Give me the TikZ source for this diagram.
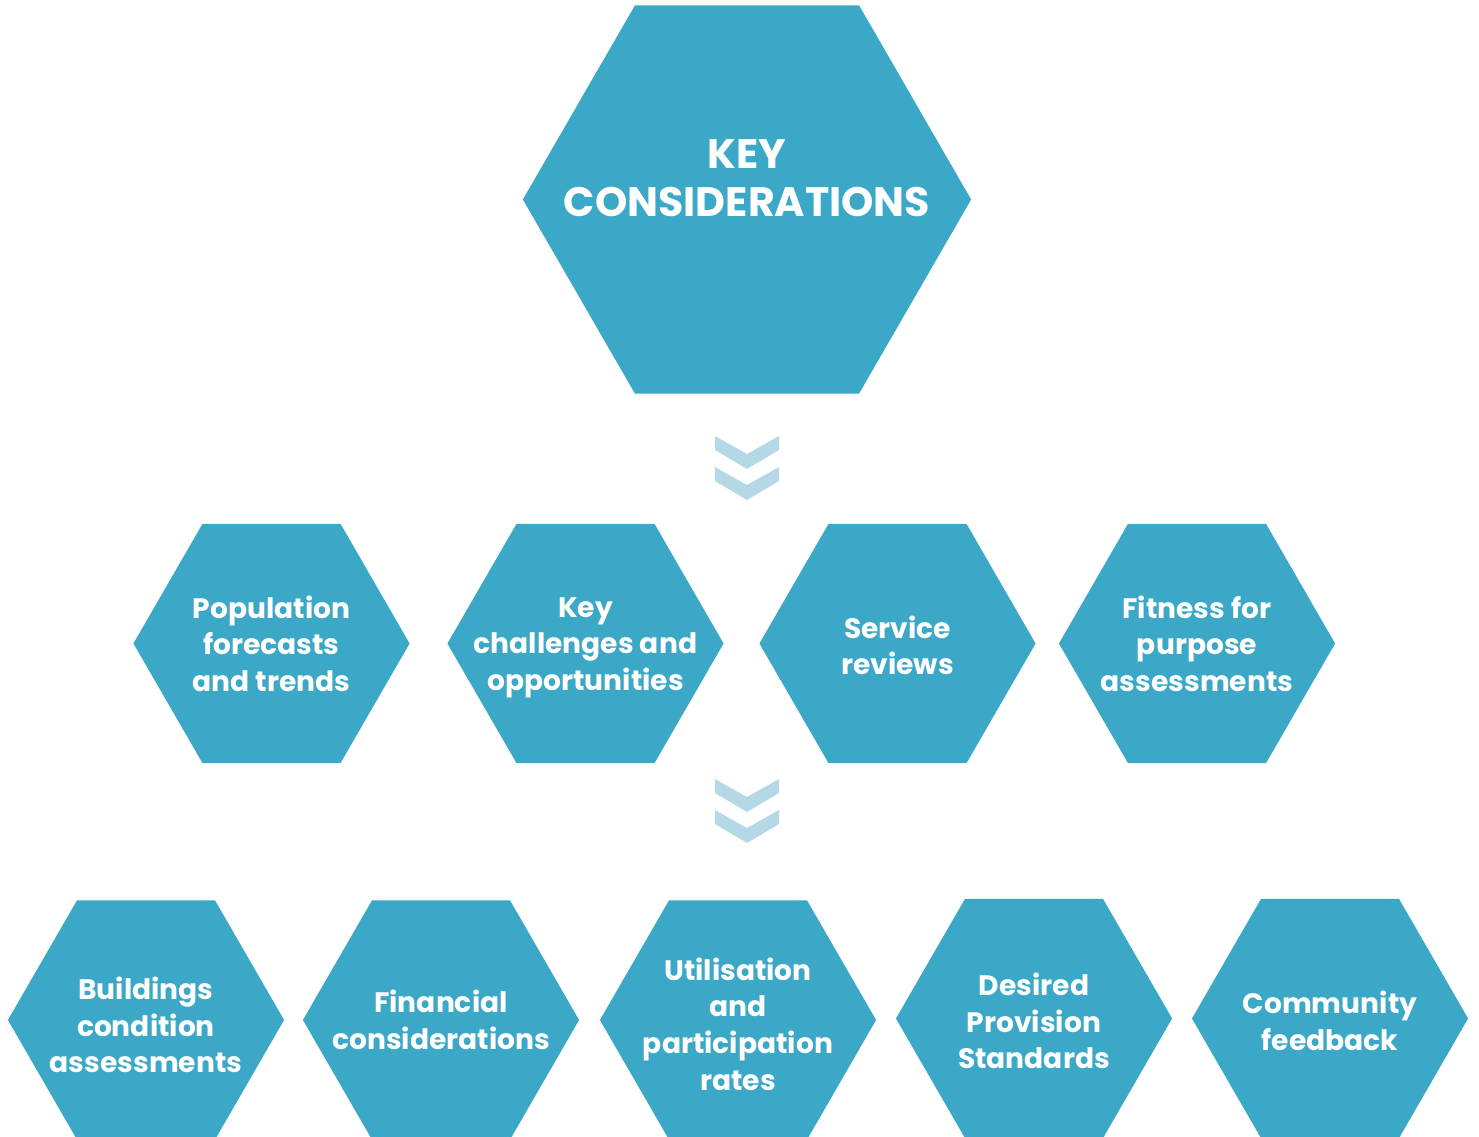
\documentclass[tikz,border=0pt]{standalone}
\usepackage{fontspec}
\setmainfont{Poppins}
\usetikzlibrary{shapes.geometric}
\definecolor{hexblue}{RGB}{59,168,200}
\definecolor{chevblue}{RGB}{181,216,230}
\tikzset{
	hexbox/.style={regular polygon, regular polygon sides=6, fill=hexblue, inner sep=0pt, minimum size=2.76cm},
	bighex/.style={hexbox, minimum size=4.48cm},
	hextext/.style={text=white, align=center, inner sep=0pt, font=\fontsize{8}{10.4}\selectfont\bfseries},
	toptext/.style={hextext, font=\fontsize{11.7}{13.8}\selectfont\bfseries},
	chevron/.style={fill=chevblue}
}
\begin{document}
\begin{tikzpicture}[x=0.01cm, y=-0.01cm]
	\useasboundingbox (0,0) rectangle (1479,1137);

	% top
	\node[bighex] (key) at (747,199.5) {};
	\node[toptext] (keyt) at (747,178) {KEY\\CONSIDERATIONS};

	% middle row
	\node[hexbox] (pop) at (271.5,643.5) {};
	\node[hexbox] (chal) at (585.5,643.5) {};
	\node[hexbox] (serv) at (897.5,643.5) {};
	\node[hexbox] (fit) at (1197,643.5) {};
	\node[hextext] (popt) at (pop) {Population\\forecasts\\and trends};
	\node[hextext] (chalt) at (585.5,647.5) {Key\\challenges and\\opportunities};
	\node[hextext] (servt) at (897.5,645.5) {Service\\reviews};
	\node[hextext] (fitt) at (fit) {Fitness for\\purpose\\assessments};

	% bottom row
	\node[hexbox] (build) at (146,1020) {};
	\node[hexbox] (fin) at (441,1020) {};
	\node[hexbox] (util) at (738,1020) {};
	\node[hexbox] (prov) at (1034,1018.5) {};
	\node[hexbox] (comm) at (1330,1018.5) {};
	\node[hextext] (buildt) at (146,1025) {Buildings\\condition\\assessments};
	\node[hextext] (fint) at (fin) {Financial\\considerations};
	\node[hextext] (utilt) at (738,1024) {Utilisation\\and\\participation\\rates};
	\node[hextext] (provt) at (1034,1021) {Desired\\Provision\\Standards};
	\node[hextext] (commt) at (1330,1021) {Community\\feedback};

	% chevrons between the rows
	\coordinate (arrA) at (747,436);
	\coordinate (arrB) at (747,779);
	\foreach \a in {arrA, arrB}
		\foreach \d in {0, 31}
			\fill[chevron] (\a) ++(-32,\d) -- ++(32,18) -- ++(32,-18) -- ++(0,14) -- ++(-32,19) -- ++(-32,-19) -- cycle;
\end{tikzpicture}
\end{document}
